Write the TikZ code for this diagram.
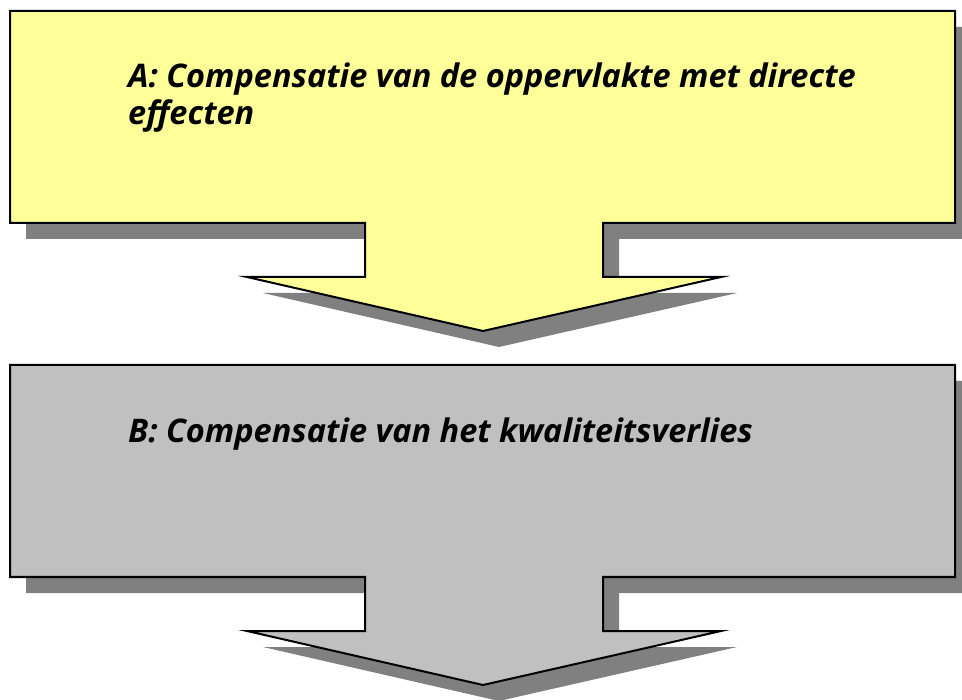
\documentclass[tikz,border=0pt]{standalone}
\usepackage{fontspec}
\setmainfont{Open Sans}
\usepackage{tikz}

\definecolor{blockyellow}{RGB}{255,255,153}
\definecolor{blockgray}{RGB}{192,192,192}
\definecolor{shadowgray}{RGB}{128,128,128}

\tikzset{
  block/.style={draw=black, line width=2pt, line join=miter},
  blockshadow/.style={fill=shadowgray, draw=none},
  blocklabel/.style={anchor=base west, inner sep=0pt, align=left,
    font=\fontsize{32.5}{37}\selectfont\bfseries\itshape},
}

% block with stem and arrow head, #1 = vertical offset
\newcommand{\blockpath}[1]{%
  (10,11+#1) -- (955,11+#1) -- (955,223+#1) -- (603,223+#1) -- (603,277+#1)
  -- (721,277+#1) -- (483,331+#1) -- (247,277+#1) -- (365,277+#1)
  -- (365,223+#1) -- (10,223+#1) -- cycle}

\begin{document}
\begin{tikzpicture}[x=1pt, y=-1pt]
\useasboundingbox (0,0) rectangle (962,700);
\foreach \dy/\col in {0/blockyellow, 354/blockgray}{
  \path[blockshadow, shift={(16,16)}] \blockpath{\dy};
  \path[block, fill=\col] \blockpath{\dy};
}
% base anchor sits on the last line
\node[blocklabel] (labelA) at (128,125)
  {A: Compensatie van de oppervlakte met directe\\effecten};
\node[blocklabel] (labelB) at (128,443)
  {B: Compensatie van het kwaliteitsverlies};
\end{tikzpicture}
\end{document}
